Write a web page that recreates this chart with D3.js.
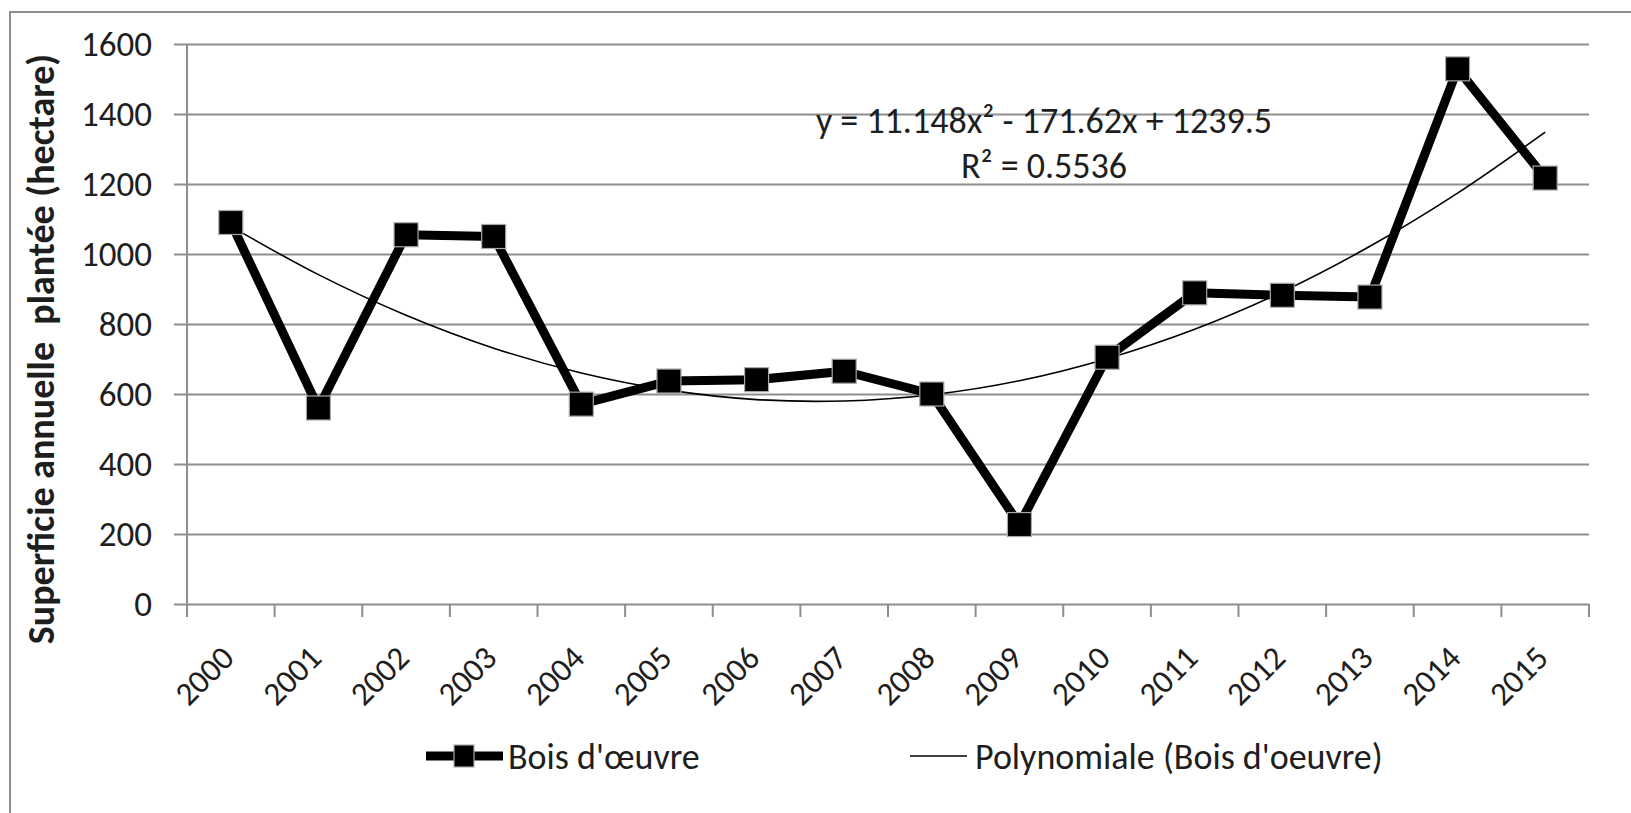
<!DOCTYPE html>
<html>
<head>
<meta charset="utf-8">
<script src="https://d3js.org/d3.v7.min.js"></script>
<style>
    body { margin: 0; background: #fff; }
    text { font-family: Carlito, Lato, "Open Sans", sans-serif; fill: #1e1e1e; }
</style>
</head>
<body>
<div id="chart"></div>
<script>
// data
var years = ["2000", "2001", "2002", "2003", "2004", "2005", "2006", "2007",
             "2008", "2009", "2010", "2011", "2012", "2013", "2014", "2015"];
var boisOeuvre = [1090, 560, 1055, 1050, 571, 637, 641, 665,
                  600, 227, 705, 889, 882, 877, 1529, 1217];
var trendValues = [1079, 941, 825, 731, 660, 611, 584, 580,
                   598, 638, 701, 785, 892, 1022, 1174, 1348];
var yTicks = [0, 200, 400, 600, 800, 1000, 1200, 1400, 1600];
var equationText = "y = 11.148x\u00b2 - 171.62x + 1239.5";
var r2Text = "R\u00b2 = 0.5536";
var legendLabels = ["Bois d'\u0153uvre", "Polynomiale (Bois d'oeuvre)"];

function init() {
    var w = 1631;
    var h = 813;
    var left = 187, right = 1589, top = 44, bottom = 604;
    var gridColor = "#8e8e8e";

    var svg = d3.select("#chart")
        .append("svg")
        .attr("width", w)
        .attr("height", h);

    // outer frame
    svg.append("rect")
        .attr("x", 10)
        .attr("y", 12)
        .attr("width", w + 20)
        .attr("height", h + 20)
        .attr("fill", "none")
        .attr("stroke", gridColor)
        .attr("stroke-width", 2);

    var xScale = d3.scaleBand()
        .domain(years)
        .range([left, right]);

    var yScale = d3.scaleLinear()
        .domain([0, 1600])
        .range([bottom, top]);

    // horizontal grid + y ticks
    var yAxis = d3.axisLeft(yScale)
        .tickValues(yTicks)
        .tickSize(-(right - left))
        .tickPadding(35)
        .tickFormat(d3.format("d"));

    var gy = svg.append("g")
        .attr("transform", "translate(" + left + ",0)")
        .call(yAxis);
    gy.select(".domain").remove();
    gy.selectAll(".tick line")
        .attr("x1", -13)
        .attr("stroke", gridColor)
        .attr("stroke-width", 2);
    gy.selectAll(".tick text")
        .style("font-size", "35px")
        .attr("fill", "#1e1e1e");

    // vertical axis line
    svg.append("line")
        .attr("x1", left)
        .attr("x2", left)
        .attr("y1", top)
        .attr("y2", bottom)
        .attr("stroke", gridColor)
        .attr("stroke-width", 2);

    // x axis ticks on band boundaries
    var xEdges = years.map(function (d) { return xScale(d); }).concat([right]);
    svg.selectAll(".xtick")
        .data(xEdges)
        .enter()
        .append("line")
        .attr("class", "xtick")
        .attr("x1", function (d) { return d; })
        .attr("x2", function (d) { return d; })
        .attr("y1", bottom)
        .attr("y2", bottom + 13)
        .attr("stroke", gridColor)
        .attr("stroke-width", 2);

    // rotated year labels
    svg.selectAll(".xlabel")
        .data(years)
        .enter()
        .append("text")
        .attr("class", "xlabel")
        .attr("text-anchor", "end")
        .attr("transform", function (d) {
            var cx = xScale(d) + xScale.bandwidth() / 2 + 5;
            return "translate(" + cx + "," + (bottom + 56) + ") rotate(-45)";
        })
        .style("font-size", "33px")
        .text(function (d) { return d; });

    // y axis title
    svg.append("text")
        .attr("transform", "translate(54," + 349 + ") rotate(-90)")
        .attr("text-anchor", "middle")
        .style("font-size", "38px")
        .style("font-weight", "bold")
        .text("Superficie annuelle\u00a0 plant\u00e9e (hectare)");

    var cxOf = function (d, i) { return xScale(years[i]) + xScale.bandwidth() / 2; };

    // trend curve
    svg.append("path")
        .datum(trendValues)
        .attr("d", d3.line()
            .x(cxOf)
            .y(function (d) { return yScale(d); })
            .curve(d3.curveCatmullRom))
        .attr("fill", "none")
        .attr("stroke", "#000")
        .attr("stroke-width", 1.6);

    // main series
    svg.append("path")
        .datum(boisOeuvre)
        .attr("d", d3.line()
            .x(cxOf)
            .y(function (d) { return yScale(d); }))
        .attr("fill", "none")
        .attr("stroke", "#000")
        .attr("stroke-width", 9)
        .attr("stroke-linejoin", "round");

    svg.selectAll(".marker")
        .data(boisOeuvre)
        .enter()
        .append("rect")
        .attr("class", "marker")
        .attr("x", function (d, i) { return cxOf(d, i) - 12; })
        .attr("y", function (d) { return yScale(d) - 12; })
        .attr("width", 24)
        .attr("height", 24)
        .attr("fill", "#000")
        .attr("stroke", "#a8a8a8")
        .attr("stroke-width", 1.2);

    // equation labels
    svg.append("text")
        .attr("x", 1044)
        .attr("y", 133)
        .attr("text-anchor", "middle")
        .style("font-size", "36px")
        .text(equationText);

    svg.append("text")
        .attr("x", 1044)
        .attr("y", 178)
        .attr("text-anchor", "middle")
        .style("font-size", "36px")
        .text(r2Text);

    // legend
    var ly = 756;
    var legend = svg.append("g").attr("class", "legend");

    legend.append("line")
        .attr("x1", 426)
        .attr("x2", 503)
        .attr("y1", ly)
        .attr("y2", ly)
        .attr("stroke", "#000")
        .attr("stroke-width", 9);
    legend.append("rect")
        .attr("x", 454)
        .attr("y", ly - 11)
        .attr("width", 20)
        .attr("height", 22)
        .attr("fill", "#000")
        .attr("stroke", "#a8a8a8")
        .attr("stroke-width", 1.2);
    legend.append("text")
        .attr("x", 508)
        .attr("y", ly)
        .attr("dy", "0.35em")
        .style("font-size", "36px")
        .text(legendLabels[0]);

    legend.append("line")
        .attr("x1", 910)
        .attr("x2", 967)
        .attr("y1", ly)
        .attr("y2", ly)
        .attr("stroke", "#000")
        .attr("stroke-width", 1.6);
    legend.append("text")
        .attr("x", 975)
        .attr("y", ly)
        .attr("dy", "0.35em")
        .style("font-size", "36px")
        .text(legendLabels[1]);
}

window.onload = init;
</script>
</body>
</html>
